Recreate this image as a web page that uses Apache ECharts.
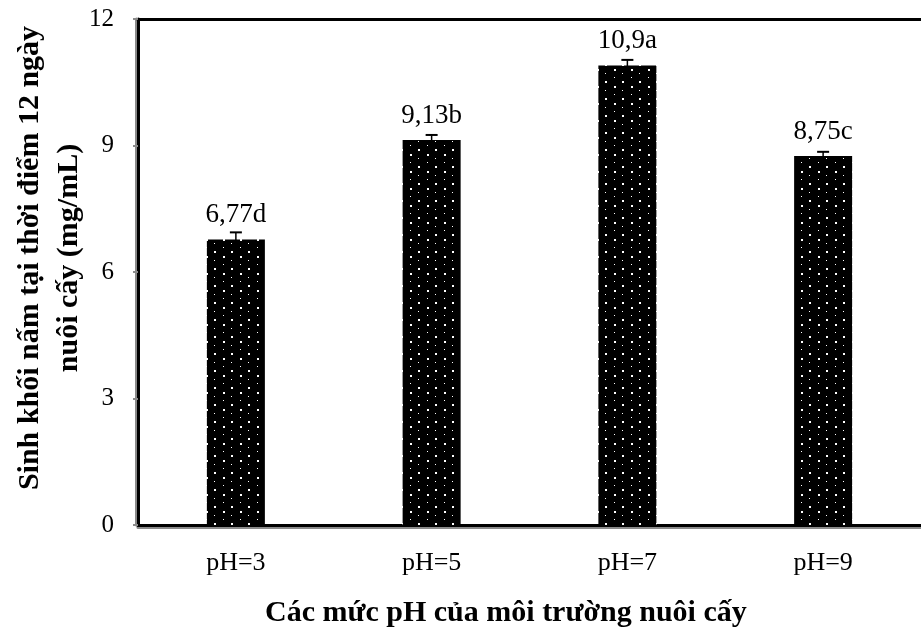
<!DOCTYPE html>
<html>
<head>
<meta charset="utf-8">
<script src="https://cdn.jsdelivr.net/npm/echarts@6/dist/echarts.min.js"></script>
<style>
  html, body { margin: 0; padding: 0; background: #fff; }
  #chart { width: 921px; height: 631px; }
</style>
</head>
<body>
<div id="chart"></div>
<script>
// Biomass at day 12 for each pH level of the culture medium
const categories = ['pH=3', 'pH=5', 'pH=7', 'pH=9'];
const biomass = [6.77, 9.13, 10.9, 8.75];
const errors = [0.17, 0.12, 0.13, 0.10];
const groupLetters = ['d', 'b', 'a', 'c'];
const yTicks = [0, 3, 6, 9, 12];

const serif = '"Liberation Serif", "DejaVu Serif", serif';

// Black fill with staggered white dots
function dotPattern() {
  const w = 17, h = 17;
  const c = document.createElement('canvas');
  c.width = w; c.height = h;
  const ctx = c.getContext('2d');
  ctx.fillStyle = '#000';
  ctx.fillRect(0, 0, w, h);
  ctx.fillStyle = '#fff';
  ctx.fillRect(2, 1, 2, 2);
  ctx.fillRect(10, 5, 1, 1);
  ctx.fillRect(2, 9, 1, 1);
  ctx.fillRect(10, 13, 2, 2);
  return c;
}

const chart = echarts.init(document.getElementById('chart'), null, { renderer: 'canvas' });

chart.setOption({
  animation: false,
  backgroundColor: '#fff',
  grid: { left: 138, top: 19, width: 791, height: 506 },
  xAxis: [
    {
      type: 'category',
      data: categories,
      position: 'bottom',
      axisLine: { lineStyle: { color: '#000', width: 3, shadowColor: '#8a8a8a', shadowOffsetY: 2 } },
      axisTick: { show: false },
      axisLabel: { color: '#000', fontFamily: serif, fontSize: 26, margin: 25 }
    },
    {
      type: 'category',
      data: categories,
      position: 'top',
      axisLine: { lineStyle: { color: '#000', width: 3 } },
      axisTick: { show: false },
      axisLabel: { show: false }
    }
  ],
  yAxis: {
    type: 'value',
    min: yTicks[0],
    max: yTicks[yTicks.length - 1],
    interval: 3,
    splitLine: { show: false },
    axisLine: { show: true, lineStyle: { color: '#000', width: 3, shadowColor: '#8a8a8a', shadowOffsetX: -2 } },
    axisTick: { show: true, length: 5, lineStyle: { color: '#8a8a8a', width: 2 } },
    axisLabel: { color: '#000', fontFamily: serif, fontSize: 25, margin: 24 }
  },
  graphic: [
    {
      type: 'text',
      left: 265,
      top: 598,
      style: {
        text: 'Các mức pH của môi trường nuôi cấy',
        font: 'bold 30px ' + serif,
        fill: '#000'
      }
    },
    {
      type: 'text',
      x: 50, y: 258,
      rotation: Math.PI / 2,
      style: {
        text: 'Sinh khối nấm tại thời điểm 12 ngày\nnuôi cấy (mg/mL)',
        font: 'bold 30px ' + serif,
        fill: '#000',
        align: 'center',
        verticalAlign: 'middle',
        lineHeight: 39
      }
    }
  ],
  series: [
    {
      type: 'bar',
      data: biomass,
      barWidth: 58,
      itemStyle: { color: { image: dotPattern(), repeat: 'repeat' } },
      label: {
        show: true,
        position: 'top',
        distance: 11,
        color: '#000',
        fontFamily: serif,
        fontSize: 27,
        formatter: p => String(p.value).replace('.', ',') + groupLetters[p.dataIndex]
      },
      z: 2
    },
    {
      type: 'custom',
      data: biomass.map((v, i) => [i, v, errors[i]]),
      z: 3,
      renderItem: (params, api) => {
        const i = api.value(0), v = api.value(1), e = api.value(2);
        const hi = api.coord([i, v + e]);
        const lo = api.coord([i, v - e]);
        const cap = 6;
        return {
          type: 'group',
          children: [
            { type: 'line', shape: { x1: hi[0], y1: hi[1], x2: lo[0], y2: lo[1] }, style: { stroke: '#000', lineWidth: 1.5 } },
            { type: 'line', shape: { x1: hi[0] - cap, y1: hi[1], x2: hi[0] + cap, y2: hi[1] }, style: { stroke: '#000', lineWidth: 2 } }
          ]
        };
      }
    }
  ]
});
</script>
</body>
</html>
